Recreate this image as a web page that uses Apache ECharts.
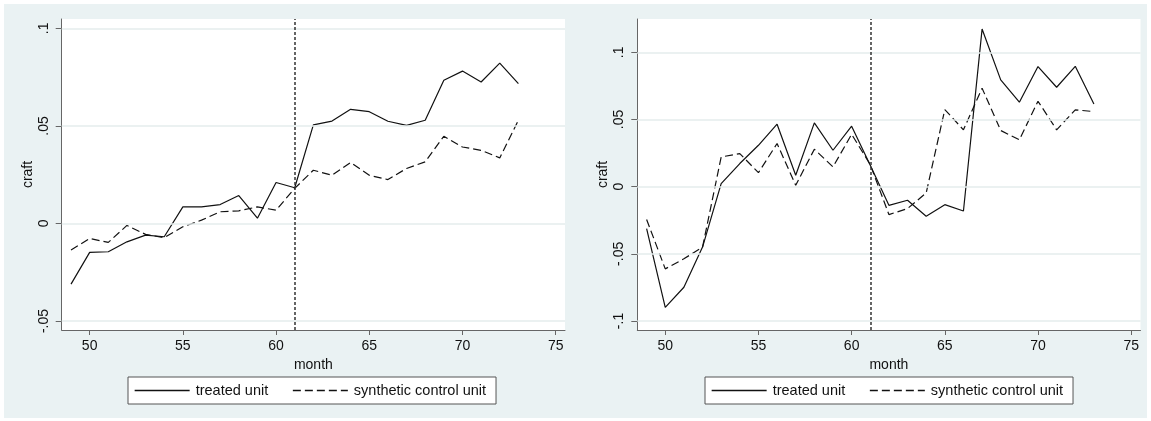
<!DOCTYPE html>
<html>
<head>
<meta charset="utf-8">
<script src="https://cdn.jsdelivr.net/npm/echarts@6/dist/echarts.min.js"></script>
<style>
  html, body { margin: 0; padding: 0; background: #ffffff; width: 1151px; height: 421px; overflow: hidden; }
  #c { position: absolute; left: 4px; top: 4px; width: 1143px; height: 414px; }
</style>
</head>
<body>
<div id="c"></div>
<script>
// ---- data ----
const months = [49,50,51,52,53,54,55,56,57,58,59,60,61,62,63,64,65,66,67,68,69,70,71,72,73];

const leftTreated = [-0.0311,-0.0148,-0.0145,-0.0094,-0.0060,-0.0068,0.0085,0.0085,0.0097,0.0143,0.0027,0.0210,0.0183,
                     0.0505,0.0525,0.0585,0.0573,0.0524,0.0503,0.0529,0.0734,0.0781,0.0725,0.0822,0.0717];
const leftSynth   = [-0.0136,-0.0077,-0.0097,-0.0010,-0.0056,-0.0073,-0.0017,0.0017,0.0060,0.0065,0.0085,0.0068,0.0180,
                     0.0273,0.0247,0.0312,0.0247,0.0225,0.0282,0.0316,0.0447,0.0392,0.0375,0.0336,0.0529];

const rightTreated = [-0.0313,-0.0898,-0.0749,-0.0450,0.0022,0.0172,0.0308,0.0465,0.0085,0.0475,0.0271,0.0450,0.0160,
                      -0.0139,-0.0101,-0.0220,-0.0134,-0.0181,0.1173,0.0795,0.0629,0.0894,0.0740,0.0896,0.0616];
const rightSynth   = [-0.0244,-0.0612,-0.0537,-0.0450,0.0221,0.0246,0.0104,0.0321,0.0010,0.0279,0.0147,0.0390,0.0164,
                      -0.0208,-0.0163,-0.0047,0.0574,0.0423,0.0733,0.0418,0.0349,0.0636,0.0423,0.0572,0.0559];

const xTicks = [50,55,60,65,70,75];
const yTicksLeft = [-0.05,0,0.05,0.1];
const yTicksRight = [-0.1,-0.05,0,0.05,0.1];
const treatmentMonth = 61;
const seriesNames = ['treated unit','synthetic control unit'];
const xTitle = 'month';
const yTitle = 'craft';

// ---- helpers ----
const FONT = '"Liberation Sans", Arial, sans-serif';
const pairs = (ys) => months.map((m, i) => [m, ys[i]]);
const fmt = (v) => {
  let s = String(+(+v).toFixed(4));
  return s.replace(/^0\./, '.').replace(/^-0\./, '-.');
};

function xAxisFor(gi) {
  return {
    gridIndex: gi, type: 'value', min: 48.5, max: 75.5,
    name: xTitle, nameLocation: 'middle', nameGap: 22,
    nameTextStyle: { fontFamily: FONT, fontSize: 14, color: '#111' },
    axisLine: { onZero: false, lineStyle: { color: '#666', width: 1 } },
    axisTick: { show: true, length: 5, customValues: xTicks, lineStyle: { color: '#666' } },
    axisLabel: { customValues: xTicks, margin: 9, fontFamily: FONT, fontSize: 14, color: '#111' },
    splitLine: { show: false }
  };
}
function yAxisFor(gi, min, max, ticks) {
  return {
    gridIndex: gi, type: 'value', min: min, max: max,
    name: yTitle, nameLocation: 'middle', nameGap: 27, nameRotate: 90,
    nameTextStyle: { fontFamily: FONT, fontSize: 14, color: '#111' },
    axisLine: { show: true, onZero: false, lineStyle: { color: '#666', width: 1 } },
    axisTick: { show: true, length: 6, customValues: ticks, lineStyle: { color: '#666' } },
    axisLabel: { customValues: ticks, rotate: 90, margin: 11, fontFamily: FONT, fontSize: 14, color: '#111', formatter: fmt },
    splitLine: { show: false }
  };
}
function refSeries(gi, ticks) {
  return {
    type: 'line', xAxisIndex: gi, yAxisIndex: gi, data: [], silent: true, z: 1,
    markLine: {
      silent: true, symbol: 'none', animation: false, label: { show: false },
      lineStyle: { color: '#e4eced', width: 1.5, type: 'solid' },
      data: ticks.map(v => ({ yAxis: v }))
    }
  };
}
function vlineSeries(gi) {
  return {
    type: 'line', xAxisIndex: gi, yAxisIndex: gi, data: [], silent: true, z: 4,
    markLine: {
      silent: true, symbol: 'none', animation: false, label: { show: false },
      lineStyle: { color: '#333', width: 1.5, type: [3, 2] },
      data: [{ xAxis: treatmentMonth }]
    }
  };
}
function dataSeries(gi, name, ys, dashed) {
  return {
    name: name, type: 'line', xAxisIndex: gi, yAxisIndex: gi, data: pairs(ys),
    showSymbol: false, symbol: 'none', z: 3, animation: false,
    lineStyle: { color: '#111', width: 1.2, type: dashed ? [8, 4] : 'solid' },
    itemStyle: { color: '#111' }
  };
}
function legendFor(left) {
  return {
    data: seriesNames, left: left, top: 373, orient: 'horizontal',
    backgroundColor: '#fff', borderColor: '#555', borderWidth: 1, borderRadius: 0,
    padding: [6, 10, 6, 6], itemGap: 24, itemWidth: 55, itemHeight: 12,
    selectedMode: false,
    itemStyle: { opacity: 0, borderWidth: 0 },
    lineStyle: { width: 1.3 },
    textStyle: { fontFamily: FONT, fontSize: 14.5, color: '#111', padding: [0, 0, 0, 1] }
  };
}

const chart = echarts.init(document.getElementById('c'), null, { renderer: 'canvas' });
chart.setOption({
  backgroundColor: '#eaf2f3',
  animation: false,
  grid: [
    { left: 57.7, right: 582, top: 15, bottom: 88, show: true, backgroundColor: '#fff', borderWidth: 0 },
    { left: 633.3, right: 6.5, top: 15, bottom: 88, show: true, backgroundColor: '#fff', borderWidth: 0 }
  ],
  xAxis: [xAxisFor(0), xAxisFor(1)],
  yAxis: [yAxisFor(0, -0.0546, 0.1048, yTicksLeft), yAxisFor(1, -0.1067, 0.1248, yTicksRight)],
  legend: [legendFor(124), legendFor(701)],
  series: [
    refSeries(0, yTicksLeft), refSeries(1, yTicksRight),
    vlineSeries(0), vlineSeries(1),
    dataSeries(0, seriesNames[0], leftTreated, false),
    dataSeries(0, seriesNames[1], leftSynth, true),
    dataSeries(1, seriesNames[0], rightTreated, false),
    dataSeries(1, seriesNames[1], rightSynth, true)
  ]
});
</script>
</body>
</html>
